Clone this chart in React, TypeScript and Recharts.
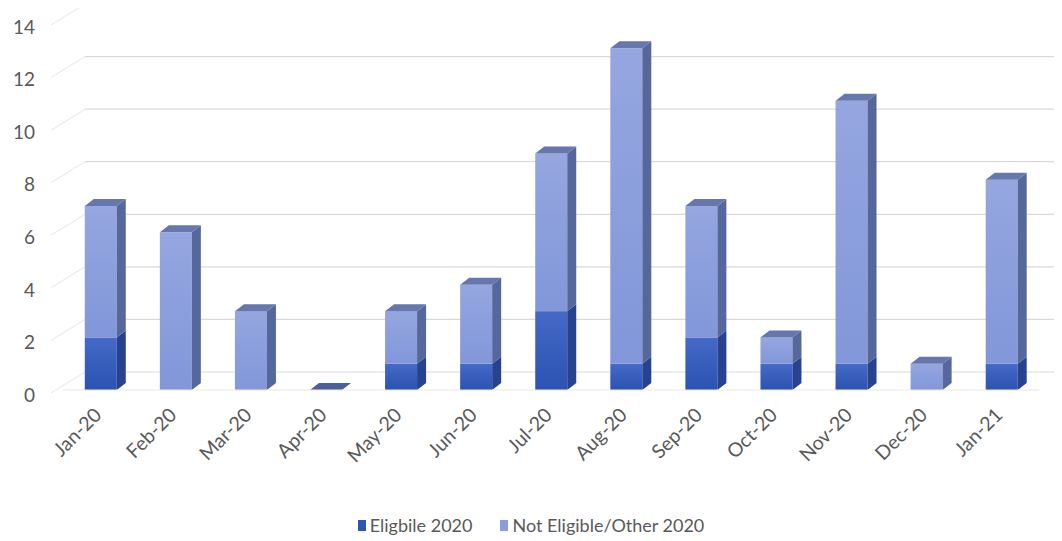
import React from 'react';
import { BarChart, Bar, XAxis, YAxis, CartesianGrid } from 'recharts';

const months = ['Jan-20', 'Feb-20', 'Mar-20', 'Apr-20', 'May-20', 'Jun-20', 'Jul-20', 'Aug-20', 'Sep-20', 'Oct-20', 'Nov-20', 'Dec-20', 'Jan-21'];
const eligible = [2, 0, 0, 0, 1, 1, 3, 1, 2, 1, 1, 0, 1];
const notEligible = [5, 6, 3, 0, 2, 3, 6, 12, 5, 1, 10, 1, 7];
const yTicks = [0, 2, 4, 6, 8, 10, 12, 14];

const seriesNames = { eligible: 'Eligbile 2020', other: 'Not Eligible/Other 2020' };

const data = months.map((m, i) => ({ month: m, eligible: eligible[i], other: notEligible[i] }));

const FONT = 'Lato, "Open Sans", sans-serif';
const TEXT = '#595959';
const DX = 9;
const DY = -7;

// fake 3d column: front face + side face (+ top face on the highest segment)
const Column3D = (props: any) => {
  const { x, y, width, height, payload, dataKey } = props;
  if (x == null || y == null) return null;
  const isElig = dataKey === 'eligible';
  const isTop = isElig ? payload.other === 0 : true;
  const h = Math.max(0, height);
  if (!isElig && h === 0) return null;
  const side = isElig ? '#27428f' : '#56679c';
  const top = isElig ? '#3d5aa8' : '#6577ad';
  return (
    <g>
      {h > 0 && (
        <rect x={x} y={y} width={width} height={h} fill={isElig ? 'url(#gElig)' : 'url(#gOther)'} />
      )}
      {h > 0 && (
        <polygon
          points={`${x + width},${y} ${x + width + DX},${y + DY} ${x + width + DX},${y + h + DY} ${x + width},${y + h}`}
          fill={side}
        />
      )}
      {isTop && (
        <polygon
          points={`${x},${y} ${x + DX},${y + DY} ${x + width + DX},${y + DY} ${x + width},${y}`}
          fill={h === 0 ? '#4a5f9e' : top}
        />
      )}
    </g>
  );
};

const MonthTick = (props: any) => {
  const { x, y, payload } = props;
  return (
    <g transform={`translate(${x - 2},${y + 14})`}>
      <text x={0} y={0} dy={6} textAnchor="end" transform="rotate(-45)" fill={TEXT} fontSize={19.5} fontFamily={FONT}>
        {payload.value}
      </text>
    </g>
  );
};

const BackGridLine = (props: any) => {
  const { x1, y1, x2, y2 } = props;
  return (
    <g>
      <line x1={x1 + 22} y1={y1 - 18} x2={x2 + 15} y2={y2 - 18} stroke="#d9d9d9" strokeWidth={1.2} />
      <line x1={x1 - 12} y1={y1 + 3} x2={x1 + 22} y2={y1 - 18} stroke="#ececec" strokeWidth={1.2} />
    </g>
  );
};

const LegendRow = () => (
  <div style={{ position: 'absolute', left: 0, top: 506, width: 1046, display: 'flex', justifyContent: 'center', fontFamily: FONT, fontSize: 18, color: TEXT }}>
    <span style={{ display: 'flex', alignItems: 'center', marginRight: 28 }}>
      <span style={{ width: 8, height: 11, background: '#2d55b3', marginRight: 4, display: 'inline-block' }} />
      {seriesNames.eligible}
    </span>
    <span style={{ display: 'flex', alignItems: 'center' }}>
      <span style={{ width: 8, height: 11, background: '#8d9ddc', marginRight: 4, display: 'inline-block' }} />
      {seriesNames.other}
    </span>
  </div>
);

export default function App() {
  return (
    <div style={{ position: 'relative', width: 1046, height: 530, background: '#fff' }}>
      <BarChart width={1046} height={530} data={data} margin={{ top: 14, right: 15, left: 0, bottom: 28 }} barCategoryGap="29%">
        <defs>
          <linearGradient id="gOther" x1="0" y1="0" x2="0" y2="1">
            <stop offset="0%" stopColor="#95a6e0" />
            <stop offset="100%" stopColor="#8197d9" />
          </linearGradient>
          <linearGradient id="gElig" x1="0" y1="0" x2="0" y2="1">
            <stop offset="0%" stopColor="#4569c6" />
            <stop offset="100%" stopColor="#2b53b3" />
          </linearGradient>
        </defs>
        <CartesianGrid vertical={false} horizontal={BackGridLine} />
        <XAxis
          dataKey="month"
          axisLine={{ stroke: '#f0e6dc' }}
          tickLine={false}
          interval={0}
          height={120}
          tick={MonthTick}
        />
        <YAxis
          domain={[0, 14]}
          ticks={yTicks}
          axisLine={false}
          tickLine={false}
          width={55}
          tickMargin={22}
          tick={{ fill: TEXT, fontSize: 19, fontFamily: FONT, dy: 5 }}
        />
        <Bar dataKey="eligible" name={seriesNames.eligible} stackId="a" fill="#2d55b3" shape={Column3D} isAnimationActive={false} />
        <Bar dataKey="other" name={seriesNames.other} stackId="a" fill="#8d9ddc" shape={Column3D} isAnimationActive={false} />
      </BarChart>
      <LegendRow />
    </div>
  );
}
